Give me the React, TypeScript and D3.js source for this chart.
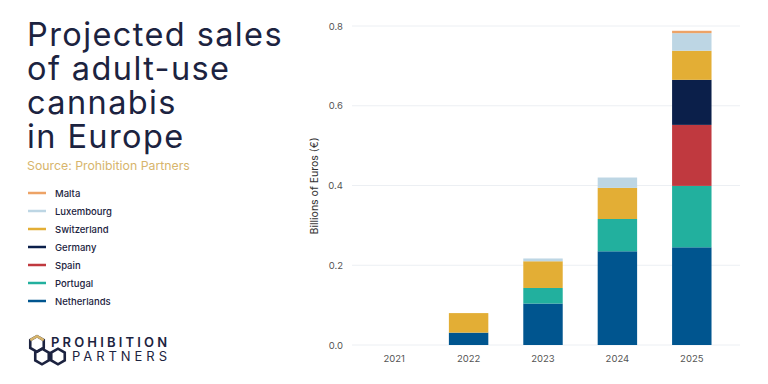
import React, { useRef, useEffect } from "react";
import * as d3 from "d3";

const years = ["2021", "2022", "2023", "2024", "2025"];
const countries = ["Netherlands", "Portugal", "Spain", "Germany", "Switzerland", "Luxembourg", "Malta"];
const netherlands = [0, 0.031, 0.104, 0.235, 0.245];
const portugal = [0, 0, 0.039, 0.081, 0.154];
const spain = [0, 0, 0, 0, 0.153];
const germany = [0, 0, 0, 0, 0.113];
const switzerland = [0, 0.049, 0.067, 0.078, 0.073];
const luxembourg = [0, 0, 0.007, 0.026, 0.044];
const malta = [0, 0, 0, 0, 0.006];
const yTicks = [0, 0.2, 0.4, 0.6, 0.8];
const colors = ["#00558f", "#22b09e", "#c0393f", "#0b1f4a", "#e3ae35", "#bdd6e4", "#eda366"];
const titleLines = ["Projected sales", "of adult-use", "cannabis", "in Europe"];

const App = () => {
  const ref = useRef<SVGSVGElement>(null);

  useEffect(() => {
    const svg = d3.select(ref.current);
    svg.selectAll("*").remove();
    const W = 768, H = 384;
    svg.append("rect").attr("width", W).attr("height", H).attr("fill", "#fff");

    const series = [netherlands, portugal, spain, germany, switzerland, luxembourg, malta];
    const table = years.map((yr, i) => {
      const row: any = { year: yr };
      countries.forEach((c, k) => (row[c] = series[k][i]));
      return row;
    });
    const stacked = d3.stack().keys(countries)(table);

    const x = d3.scaleBand().domain(years).range([357, 729]).paddingInner(0.47).paddingOuter(0.235);
    const y = d3.scaleLinear().domain([0, 0.8]).range([345, 26]);

    // grid
    svg.append("g")
      .selectAll("line")
      .data(yTicks)
      .join("line")
      .attr("x1", 352).attr("x2", 740)
      .attr("y1", (d) => y(d)).attr("y2", (d) => y(d))
      .attr("stroke", "#eceff3").attr("stroke-width", 1);

    svg.append("g")
      .selectAll("text")
      .data(yTicks)
      .join("text")
      .attr("x", 343).attr("y", (d) => y(d) + 3.5)
      .attr("text-anchor", "end")
      .attr("font-family", "Inter, 'Noto Sans', sans-serif")
      .attr("font-size", 9.5).attr("fill", "#555")
      .text((d) => d3.format(".1f")(d));

    svg.append("g")
      .selectAll("text")
      .data(years)
      .join("text")
      .attr("x", (d) => x(d)! + x.bandwidth() / 2).attr("y", 362)
      .attr("text-anchor", "middle")
      .attr("font-family", "Inter, 'Noto Sans', sans-serif")
      .attr("font-size", 9.5).attr("fill", "#555")
      .text((d) => d);

    svg.append("text")
      .attr("transform", "translate(318,186) rotate(-90)")
      .attr("text-anchor", "middle")
      .attr("font-family", "Inter, 'Noto Sans', sans-serif")
      .attr("font-size", 10.5).attr("fill", "#333")
      .text("Billions of Euros (€)");

    // bars
    svg.append("g")
      .selectAll("g")
      .data(stacked)
      .join("g")
      .attr("fill", (d, i) => colors[i])
      .selectAll("rect")
      .data((d) => d.filter((p) => p[1] - p[0] > 0))
      .join("rect")
      .attr("x", (d: any) => x(d.data.year)!)
      .attr("width", x.bandwidth())
      .attr("y", (d) => y(d[1]))
      .attr("height", (d) => y(d[0]) - y(d[1]));

    // title
    svg.append("g")
      .selectAll("text")
      .data(titleLines)
      .join("text")
      .attr("x", 27).attr("y", (d, i) => 46 + i * 34)
      .attr("font-family", "Inter, 'Noto Sans', sans-serif")
      .attr("font-size", 32.5).attr("letter-spacing", 1.4)
      .attr("fill", "#1c2340")
      .text((d) => d);

    svg.append("text")
      .attr("x", 27).attr("y", 170)
      .attr("font-family", "Inter, 'Noto Sans', sans-serif")
      .attr("font-size", 12.3).attr("fill", "#d7b56c")
      .text("Source: Prohibition Partners");

    // legend (top to bottom: Malta ... Netherlands)
    const legendItems = countries.map((c, i) => ({ name: c, color: colors[i] })).reverse();
    const lg = svg.append("g")
      .selectAll("g")
      .data(legendItems)
      .join("g")
      .attr("transform", (d, i) => `translate(28,${193 + i * 18})`);
    lg.append("line")
      .attr("x1", 0).attr("x2", 18)
      .attr("stroke", (d) => d.color).attr("stroke-width", 2.5);
    lg.append("text")
      .attr("x", 27).attr("y", 3.5)
      .attr("font-family", "Inter, 'Noto Sans', sans-serif")
      .attr("font-size", 9.5).attr("font-weight", 500).attr("fill", "#1c2340")
      .text((d) => d.name);

    // logo
    const hex = (cx: number, cy: number, r: number) =>
      d3.range(6).map((k) => {
        const a = (Math.PI / 3) * k + Math.PI / 6;
        return [cx + r * Math.cos(a), cy + r * Math.sin(a)] as [number, number];
      });
    const logo = svg.append("g");
    [[37, 344], [42, 356.5], [58, 356.5]].forEach(([cx, cy]) => {
      logo.append("path")
        .attr("d", d3.line()(hex(cx, cy, 7.8)) + "Z")
        .attr("fill", "none").attr("stroke", "#1c2340").attr("stroke-width", 2.6);
    });
    const top = hex(37, 344, 7.8);
    logo.append("path")
      .attr("d", d3.line()([top[3], top[4], top[5]]))
      .attr("fill", "none").attr("stroke", "#d7b56c").attr("stroke-width", 2.6);
    logo.append("text")
      .attr("x", 51).attr("y", 347)
      .attr("font-family", "Inter, 'Noto Sans', sans-serif")
      .attr("font-size", 13).attr("font-weight", 600)
      .attr("textLength", 116).attr("lengthAdjust", "spacing")
      .attr("fill", "#1c2340").text("PROHIBITION");
    logo.append("text")
      .attr("x", 72).attr("y", 360.5)
      .attr("font-family", "Inter, 'Noto Sans', sans-serif")
      .attr("font-size", 13).attr("font-weight", 400)
      .attr("textLength", 95).attr("lengthAdjust", "spacing")
      .attr("fill", "#1c2340").text("PARTNERS");
  }, []);

  return (
    <div style={{ position: "fixed", left: 0, top: 0 }}>
      <svg ref={ref} width={768} height={384} style={{ display: "block" }} />
    </div>
  );
};

export default App;
